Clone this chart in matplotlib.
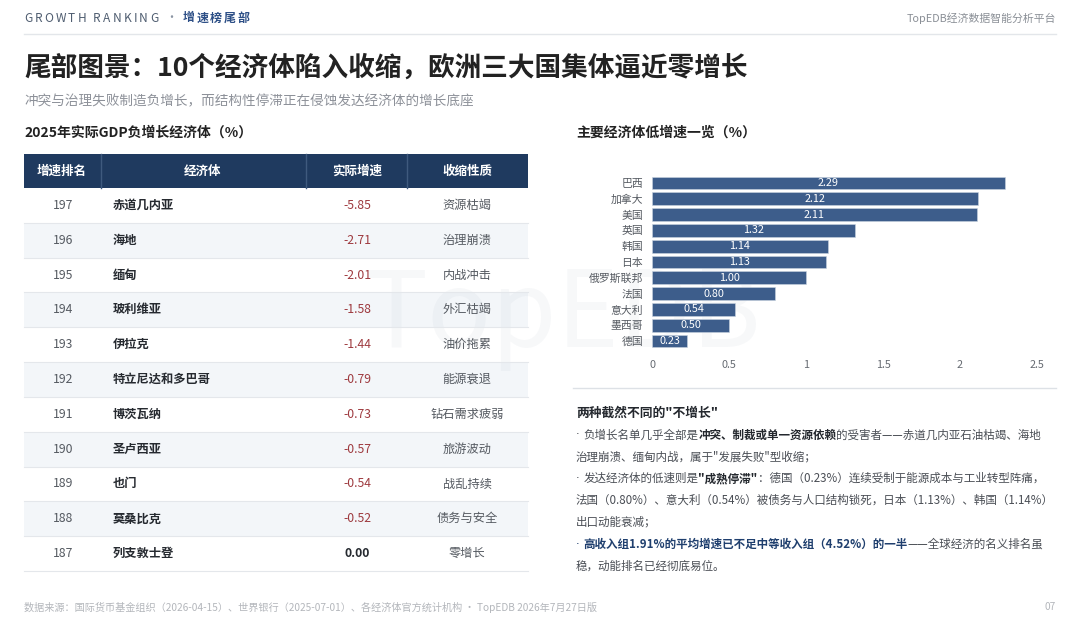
import matplotlib
matplotlib.use('Agg')
import matplotlib.pyplot as plt
from matplotlib.patches import Rectangle

plt.rcParams['font.family'] = ['Noto Sans CJK SC', 'DejaVu Sans']

# ---------------- data ----------------
table_headers = ['增速排名', '经济体', '实际增速', '收缩性质']
ranks = [197, 196, 195, 194, 193, 192, 191, 190, 189, 188, 187]
economies = ['赤道几内亚', '海地', '缅甸', '玻利维亚', '伊拉克', '特立尼达和多巴哥',
             '博茨瓦纳', '圣卢西亚', '也门', '莫桑比克', '列支敦士登']
growth = [-5.85, -2.71, -2.01, -1.58, -1.44, -0.79, -0.73, -0.57, -0.54, -0.52, 0.00]
natures = ['资源枯竭', '治理崩溃', '内战冲击', '外汇枯竭', '油价拖累', '能源衰退',
           '钻石需求疲弱', '旅游波动', '战乱持续', '债务与安全', '零增长']

bar_countries = ['巴西', '加拿大', '美国', '英国', '韩国', '日本', '俄罗斯联邦',
                 '法国', '意大利', '墨西哥', '德国']
bar_values = [2.29, 2.12, 2.11, 1.32, 1.14, 1.13, 1.00, 0.80, 0.54, 0.50, 0.23]
x_ticks = [0, 0.5, 1, 1.5, 2, 2.5]
x_tick_labels = ['0', '0.5', '1', '1.5', '2', '2.5']

title = '尾部图景：10个经济体陷入收缩，欧洲三大国集体逼近零增长'
subtitle = '冲突与治理失败制造负增长，而结构性停滞正在侵蚀发达经济体的增长底座'
table_title = '2025年实际GDP负增长经济体（%）'
chart_title = '主要经济体低增速一览（%）'
note_title = '两种截然不同的"不增长"'
footer = '数据来源：国际货币基金组织（2026-04-15）、世界银行（2025-07-01）、各经济体官方统计机构 · TopEDB 2026年7月27日版'

# ---------------- figure ----------------
W, H = 1080, 619
fig = plt.figure(figsize=(W / 100, H / 100), dpi=100)
fig.patch.set_facecolor('white')
ax0 = fig.add_axes([0, 0, 1, 1])
ax0.set_xlim(0, W)
ax0.set_ylim(H, 0)
ax0.axis('off')
renderer = fig.canvas.get_renderer()


def spaced(x, y, text, size, color, weight='normal', spacing=0.0):
    for ch in text:
        t = ax0.text(x, y, ch, fontsize=size, color=color, fontweight=weight,
                     va='center', ha='left')
        x += t.get_window_extent(renderer).width + spacing
    return x


def runs(x, y, parts, size, draw=True):
    x0 = x
    for part in parts:
        text, weight, color = part[:3]
        fam = part[3] if len(part) > 3 else None
        kw = {'family': fam} if fam else {}
        t = ax0.text(x, y, text, fontsize=size, fontweight=weight, color=color,
                     va='center', ha='left', **kw)
        x += t.get_window_extent(renderer).width
        if not draw:
            t.remove()
    return x - x0


# header
x = spaced(24, 18, 'GROWTH RANKING', 8.6, '#4f5d70', spacing=2.2)
x = spaced(x + 5, 18, '·', 8.6, '#8a94a3')
spaced(x + 5, 18, '增速榜尾部', 8.6, '#2d4f86', weight='bold', spacing=2.0)
ax0.text(1056, 18, 'TopEDB经济数据智能分析平台', fontsize=7.8, color='#8a8f96',
         ha='right', va='center')
ax0.plot([24, 1056], [34, 34], color='#e3e6ea', lw=1.0)

# watermark
ax0.text(365, 347, 'TopEDB', fontsize=76, color='#1e3a5f', alpha=0.03,
         ha='left', va='baseline', fontweight='normal', zorder=0.5)

# titles
ax0.text(24, 68, title, fontsize=19.2, fontweight='bold', color='#222222',
         ha='left', va='center')
ax0.text(24, 101, subtitle, fontsize=9.8, color='#8d9199', ha='left', va='center')
ax0.text(24, 133, table_title, fontsize=10, fontweight='bold', color='#222222',
         ha='left', va='center')
ax0.text(576, 133, chart_title, fontsize=10, fontweight='bold', color='#222222',
         ha='left', va='center')

# ---------------- table ----------------
col_edges = [24, 101, 306, 407, 528]
head_top, head_bot = 154, 188
row_h = (571 - 188) / len(ranks)
navy = '#1f3a5f'
ax0.add_patch(Rectangle((col_edges[0], head_top), col_edges[-1] - col_edges[0],
                        head_bot - head_top, facecolor=navy, edgecolor='none', zorder=1))
for ce in col_edges[1:-1]:
    ax0.plot([ce, ce], [head_top, head_bot], color='#3f5a7e', lw=1.0, zorder=2)
head_x = [62, 203, 357, 467]
for hx, ht in zip(head_x, table_headers):
    ax0.text(hx, (head_top + head_bot) / 2, ht, fontsize=9, fontweight='bold',
             color='white', ha='center', va='center', zorder=3)

for i, (rk, ec, g, nt) in enumerate(zip(ranks, economies, growth, natures)):
    top = head_bot + i * row_h
    cy = top + row_h / 2
    if i % 2 == 1:
        ax0.add_patch(Rectangle((col_edges[0], top), col_edges[-1] - col_edges[0], row_h,
                                facecolor='#f3f6f9', edgecolor='none', zorder=0.2))
    ax0.plot([col_edges[0], col_edges[-1]], [top + row_h, top + row_h],
             color='#e4e7eb', lw=0.8, zorder=2)
    ax0.text(63, cy, str(rk), fontsize=8.8, color='#555a61', ha='center', va='center', zorder=3)
    ax0.text(113, cy, ec, fontsize=8.8, fontweight='bold', color='#262a30',
             ha='left', va='center', zorder=3)
    vcol = '#9e3a3f' if g < 0 else '#262a30'
    vw = 'normal' if g < 0 else 'bold'
    ax0.text(357, cy, f'{g:.2f}', fontsize=8.8, color=vcol, fontweight=vw,
             ha='center', va='center', zorder=3)
    ax0.text(467, cy, nt, fontsize=8.8, color='#555a61', ha='center', va='center', zorder=3)

# ---------------- bar chart ----------------
ax1 = fig.add_axes([652 / W, (H - 348.9) / H, 385 / W, 173.8 / H])
bars = ax1.barh(range(len(bar_values)), bar_values, height=0.8, color='#3d5d8b',
                edgecolor='#c9d3e0', linewidth=0.4)
ax1.bar_label(bars, labels=[f'{v:.2f}' for v in bar_values], label_type='center',
              color='white', fontsize=7.8)
ax1.set_xlim(0, 2.5)
ax1.set_ylim(len(bar_values) - 0.5, -0.5)
ax1.set_yticks(range(len(bar_countries)))
ax1.set_yticklabels(bar_countries)
ax1.set_xticks(x_ticks)
ax1.set_xticklabels(x_tick_labels)
ax1.tick_params(axis='y', length=0, pad=6.5, labelsize=7.8, labelcolor='#555a61')
ax1.tick_params(axis='x', length=0, pad=8, labelsize=7.8, labelcolor='#666b72')
for s in ax1.spines.values():
    s.set_visible(False)
ax1.patch.set_alpha(0)

ax0.plot([573, 1056], [388, 388], color='#dde1e6', lw=1.0)

# ---------------- notes ----------------
body = '#4a4e55'
bold = '#24282e'
blue = '#1f3f6e'
BUL = 'DejaVu Sans'
ax0.text(576, 413, note_title, fontsize=9.2, fontweight='bold', color=bold,
         ha='left', va='center')
y0, dy = 435, 21.8
note_lines = [
    [('· ', 'normal', body, BUL), ('负增长名单几乎全部是', 'normal', body),
     ('冲突、制裁或单一资源依赖', 'bold', bold),
     ('的受害者——赤道几内亚石油枯竭、海地', 'normal', body)],
    [('治理崩溃、缅甸内战，属于"发展失败"型收缩；', 'normal', body)],
    [('· ', 'normal', body, BUL), ('发达经济体的低速则是', 'normal', body),
     ('"成熟停滞"', 'bold', bold),
     ('：德国（0.23%）连续受制于能源成本与工业转型阵痛，', 'normal', body)],
    [('法国（0.80%）、意大利（0.54%）被债务与人口结构锁死，日本（1.13%）、韩国（1.14%）', 'normal', body)],
    [('出口动能衰减；', 'normal', body)],
    [('· ', 'normal', blue, BUL),
     ('高收入组1.91%的平均增速已不足中等收入组（4.52%）的一半', 'bold', blue),
     ('——全球经济的名义排名虽', 'normal', body)],
    [('稳，动能排名已经彻底易位。', 'normal', body)],
]
fs = 9.2
widest = max(runs(576, 0, p, fs, draw=False) for p in note_lines)
fs = fs * min(1.0, 478.0 / widest)
for k, parts in enumerate(note_lines):
    runs(576, y0 + k * dy, parts, fs)

# ---------------- footer ----------------
ax0.text(24, 607, footer, fontsize=7.3, color='#b3b6bb', ha='left', va='center')
ax0.text(1056, 607, '07', fontsize=7.3, color='#b3b6bb', ha='right', va='center')

fig.savefig('out.png', dpi=100, facecolor='white')
